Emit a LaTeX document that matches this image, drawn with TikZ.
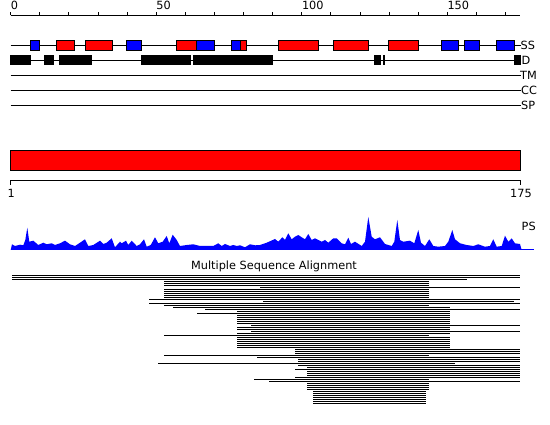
\documentclass[tikz,border=0pt]{standalone}
\usepackage{fontspec}
\setmainfont{DejaVu Sans}
\begin{document}
\begin{tikzpicture}[x=1pt,y=-1pt,
  track/.style={draw=black,line width=1pt},
  helix/.style={fill=red,draw=black,line width=1pt},
  strand/.style={fill=blue,draw=black,line width=1pt},
  disorder/.style={fill=black},
  msaline/.style={draw=black,line width=1pt},
  lbl/.style={font=\fontsize{11.3}{13}\selectfont,inner sep=0pt,text=black},
  tickline/.style={draw=black,line width=1pt}]
\useasboundingbox (0,0) rectangle (550,425);
\fill[white] (0,0) rectangle (550,425);

% top axis
\draw[tickline] (10.7,15.5) -- (520,15.5);
\foreach \t in {0,10,...,170} \draw[tickline] ({10.7+2.911*\t},15.5) -- ({10.7+2.911*\t},12);
\foreach \t/\n in {0/a0,50/a50,100/a100,150/a150}
  \node[lbl,anchor=base west] (\n) at ({10.7+2.911*\t},10) {\t};

% tracks
\foreach \yy/\nm in {45.5/ss,60.5/d,75.5/tm,90.5/cc,105.5/sp}
  \draw[track] (10.7,\yy) -- (521,\yy);
\node[lbl,anchor=west] (lss) at (520.5,45.5) {SS};
\node[lbl,anchor=west] (ld) at (521.5,60.5) {D};
\node[lbl,anchor=west] (ltm) at (520,75.5) {TM};
\node[lbl,anchor=west] (lcc) at (521,90.5) {CC};
\node[lbl,anchor=west] (lsp) at (521,105.5) {SP};

% secondary structure
\foreach \a/\b in {30.5/39.5,126.5/141.5,196.5/214.5,231.5/240.5,441.5/458.5,464/479.5,496.5/514.5}
  \draw[strand] (\a,40.5) rectangle (\b,50.5);
\foreach \a/\b in {56.5/74.5,85.5/112.5,176.5/196.5,240.5/246.5,278.5/318.5,333.5/368.5,388.5/418.5}
  \draw[helix] (\a,40.5) rectangle (\b,50.5);

% disorder
\foreach \a/\b in {10/31,44/54,59/92,141/191,193/273,374/381,382.7/385.3,514/521}
  \fill[disorder] (\a,55.5) rectangle (\b,65.5);

% domain bar
\draw[helix] (10.7,150.5) rectangle (520.3,170.5);

% bottom axis
\draw[tickline] (10.7,180.5) -- (520,180.5);
\draw[tickline] (10.7,180.5) -- (10.7,185.5);
\draw[tickline] (520,180.5) -- (520,185.5);
\node[lbl,anchor=north] (b1) at (11.3,189.5) {1};
\node[lbl,anchor=north] (b175) at (521,189.5) {175};

% PS profile
\fill[blue] (10.7,250) -- (12,244.3) -- (15,246) -- (20,244.7) -- (23.3,245.3) -- (25.3,240) -- (27.3,227.7) -- (29.3,241.7) -- (33.3,240.7) -- (38.3,245) -- (43.3,242.7) -- (46.7,244.3) -- (51.7,243.3) -- (55,245) -- (60,243.3) -- (65,240.7) -- (70,244.3) -- (75,246) -- (80,242.7) -- (85,239.3) -- (88.3,246) -- (93.3,245) -- (100,240.7) -- (103.3,244) -- (106.7,242.7) -- (111.7,238.3) -- (115,247.3) -- (120,241.7) -- (121.7,243.3) -- (126,240.7) -- (128.3,245) -- (131.7,240.7) -- (136.7,246) -- (140,244.3) -- (144,239.3) -- (146.7,246.7) -- (150.7,245) -- (155,237.3) -- (158.3,243.3) -- (162.7,241.7) -- (166.7,236) -- (169.3,243.3) -- (172.7,234.7) -- (176.7,240) -- (180,246) -- (186.7,245) -- (193.3,244.3) -- (200,246) -- (213.3,246) -- (218.3,243.3) -- (221.7,246) -- (225,244) -- (230,246) -- (233.3,245) -- (236.7,246) -- (240,245.3) -- (245,247.3) -- (250,244.3) -- (255,245.3) -- (260,245) -- (266.7,242.7) -- (275,239) -- (278.3,241.7) -- (282.3,237.3) -- (285,240) -- (288.3,233.3) -- (291.7,239.3) -- (295,236.7) -- (298.3,235) -- (301.7,237.3) -- (305,239.3) -- (308.3,234) -- (311.7,240) -- (315,238.3) -- (318.3,240) -- (321.7,241.7) -- (325,240) -- (328.3,242.7) -- (333.3,238.3) -- (336.7,238.3) -- (341.7,243.3) -- (345,244.3) -- (348.3,237.7) -- (351,244) -- (355,241.7) -- (361.7,246) -- (365,241.7) -- (368.3,217) -- (371.7,236.7) -- (375,239.3) -- (380,237.3) -- (385,244) -- (391.7,246) -- (394.3,241.7) -- (397.3,220) -- (400,240) -- (403.3,241.7) -- (410,240.7) -- (414.3,243.3) -- (418.3,230) -- (421,242.7) -- (425,246) -- (429.3,239.3) -- (433.3,246) -- (438.3,246.7) -- (445,246) -- (448.3,241.7) -- (452.3,230) -- (455,239.3) -- (460,243.3) -- (466.7,245) -- (473.3,246) -- (478.3,244.3) -- (485,246.7) -- (490,246) -- (493.3,239.3) -- (496.7,246.7) -- (501.7,246) -- (505,235.7) -- (508.3,241.7) -- (511.7,238.3) -- (515,243.3) -- (520,244) -- (521.7,250) -- cycle;
\draw[blue,line width=1pt] (10.7,249.5) -- (534,249.5);
\node[lbl,anchor=west] (lps) at (521.5,226.5) {PS};

% MSA
\node[lbl,anchor=base] (msat) at (274,270) {Multiple Sequence Alignment};
\foreach \yy/\a/\b in {275.5/12/520,277.5/12/520,279.5/12/467,281.5/164/429,283.5/164/429,285.5/164/429,287.5/260/520,289.5/164/429,291.5/164/429,293.5/164/429,295.5/164/429,297.5/164/429,299.5/149/520,301.5/263/514,303.5/149/520,305.5/164/429,307.5/173/450,309.5/205/520,311.5/237/450,313.5/197/450,315.5/237/450,317.5/237/450,319.5/237/450,321.5/237/450,323.5/237/450,325.5/251/520,327.5/237/450,329.5/237/450,331.5/251/520,333.5/237/450,335.5/164/429,337.5/237/450,339.5/237/450,341.5/237/450,343.5/237/450,345.5/237/450,347.5/237/450,349.5/295/520,351.5/295/520,353.5/295/520,355.5/164/429,357.5/257/520,359.5/298/520,361.5/298/520,363.5/158/455,365.5/298/520,367.5/307/520,369.5/295/520,371.5/307/520,373.5/307/520,375.5/307/520,377.5/295/520,379.5/254/429,381.5/269/520,383.5/307/429,385.5/307/429,387.5/307/429,389.5/307/429,391.5/313/426,393.5/313/426,395.5/313/426,397.5/313/426,399.5/313/426,401.5/313/426,403.5/313/426}
  \draw[msaline] (\a,\yy) -- (\b,\yy);
\end{tikzpicture}
\end{document}
